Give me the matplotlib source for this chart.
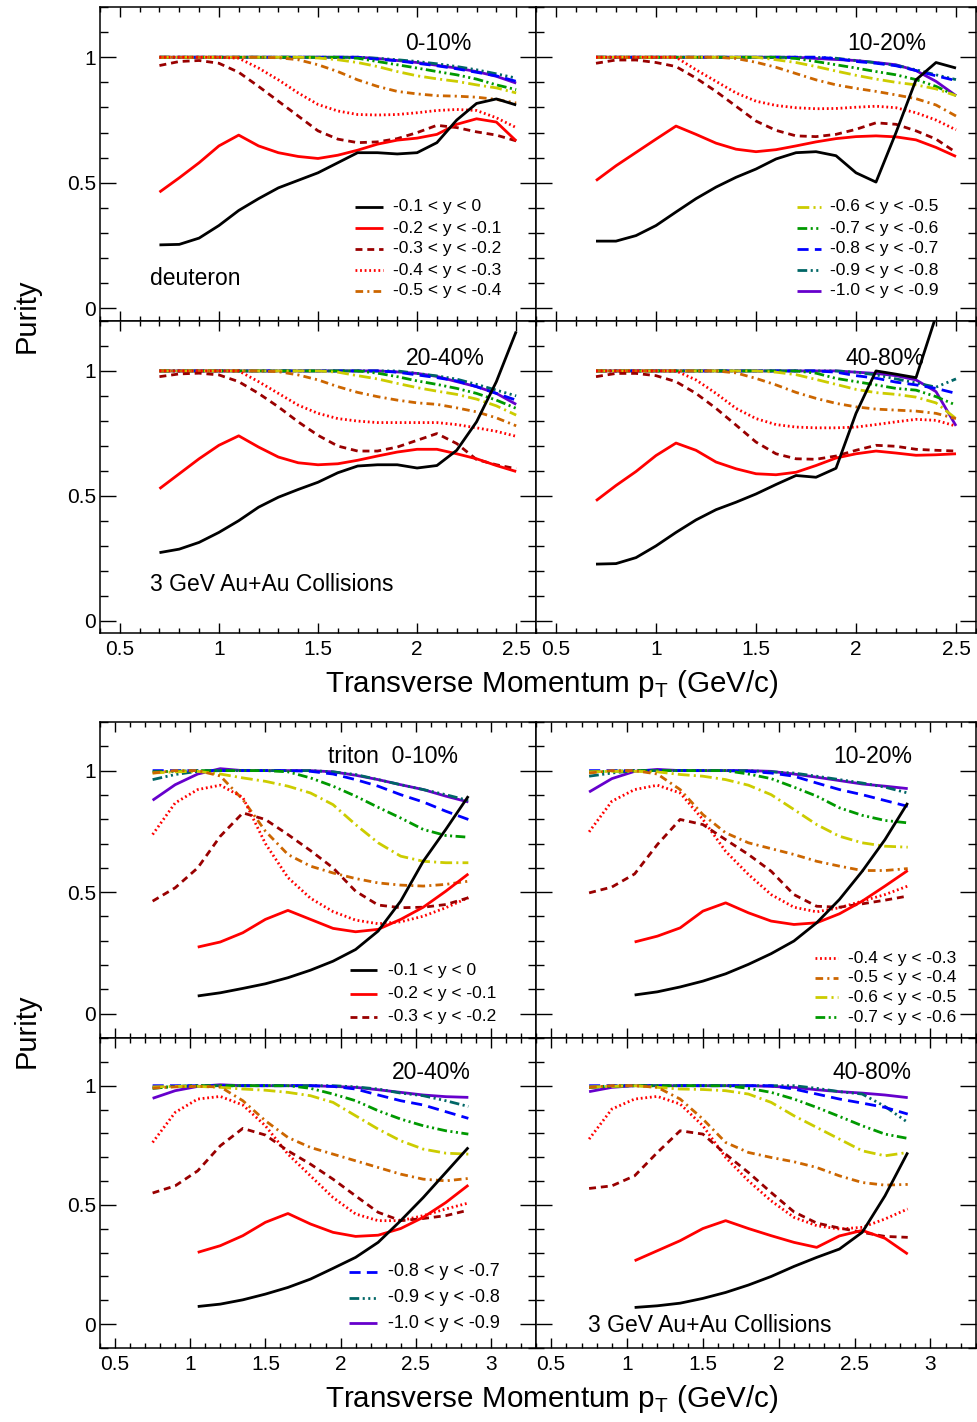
import numpy as np
import matplotlib
matplotlib.use('Agg')
import matplotlib.pyplot as plt
from matplotlib.lines import Line2D
from matplotlib.ticker import MultipleLocator, FuncFormatter

plt.rcParams['font.family'] = ['Liberation Sans', 'DejaVu Sans']
plt.rcParams['lines.scale_dashes'] = False

nan = np.nan

# ── rapidity bins ───────────────────────────────────────────────────────
RAP_LABELS = [
    '-0.1 < y < 0', '-0.2 < y < -0.1', '-0.3 < y < -0.2', '-0.4 < y < -0.3',
    '-0.5 < y < -0.4', '-0.6 < y < -0.5', '-0.7 < y < -0.6', '-0.8 < y < -0.7',
    '-0.9 < y < -0.8', '-1.0 < y < -0.9',
]
CENTRALITY = ['0-10%', '10-20%', '20-40%', '40-80%']

# ── deuteron purity vs pT ──────────────────────────────────────────────
PT_D = [0.7, 0.8, 0.9, 1.0, 1.1, 1.2, 1.3, 1.4, 1.5, 1.6,
        1.7, 1.8, 1.9, 2.0, 2.1, 2.2, 2.3, 2.4, 2.5]

D_0_10 = [
    [0.253, 0.255, 0.28, 0.33, 0.39, 0.437, 0.48, 0.51, 0.54, 0.58, 0.62, 0.62, 0.615, 0.62, 0.66, 0.75, 0.816, 0.834, 0.81],
    [0.463, 0.52, 0.58, 0.647, 0.69, 0.647, 0.62, 0.605, 0.597, 0.61, 0.63, 0.654, 0.67, 0.678, 0.693, 0.733, 0.755, 0.742, 0.667],
    [0.967, 0.983, 0.987, 0.976, 0.94, 0.884, 0.825, 0.766, 0.707, 0.674, 0.66, 0.663, 0.676, 0.7, 0.729, 0.72, 0.703, 0.69, 0.667],
    [1.0, 1.0, 1.0, 1.0, 0.996, 0.957, 0.91, 0.858, 0.812, 0.786, 0.772, 0.77, 0.772, 0.779, 0.788, 0.792, 0.788, 0.759, 0.72],
    [1.0, 1.0, 1.0, 1.0, 1.0, 1.0, 0.998, 0.99, 0.97, 0.943, 0.91, 0.884, 0.864, 0.854, 0.847, 0.845, 0.841, 0.832, 0.818],
    [1.0, 1.0, 1.0, 1.0, 1.0, 1.0, 1.0, 1.0, 0.997, 0.99, 0.979, 0.963, 0.943, 0.926, 0.914, 0.904, 0.89, 0.878, 0.858],
    [1.0, 1.0, 1.0, 1.0, 1.0, 1.0, 1.0, 1.0, 1.0, 1.0, 0.996, 0.983, 0.97, 0.957, 0.943, 0.93, 0.913, 0.89, 0.871],
    [1.0, 1.0, 1.0, 1.0, 1.0, 1.0, 1.0, 1.0, 1.0, 1.0, 1.0, 0.992, 0.986, 0.976, 0.966, 0.954, 0.94, 0.926, 0.904],
    [1.0, 1.0, 1.0, 1.0, 1.0, 1.0, 1.0, 1.0, 1.0, 1.0, 1.0, 0.996, 0.99, 0.983, 0.974, 0.963, 0.95, 0.934, 0.917],
    [1.0, 1.0, 1.0, 1.0, 1.0, 1.0, 1.0, 1.0, 1.0, 1.0, 1.0, 0.995, 0.987, 0.979, 0.968, 0.957, 0.943, 0.924, 0.897],
]

D_10_20 = [
    [0.268, 0.268, 0.29, 0.33, 0.384, 0.437, 0.483, 0.522, 0.555, 0.595, 0.62, 0.624, 0.608, 0.54, 0.503, 0.7, 0.91, 0.979, 0.957],
    [0.509, 0.568, 0.621, 0.674, 0.726, 0.693, 0.658, 0.634, 0.624, 0.632, 0.647, 0.663, 0.676, 0.684, 0.687, 0.683, 0.671, 0.641, 0.605],
    [0.976, 0.989, 0.989, 0.979, 0.963, 0.917, 0.864, 0.805, 0.746, 0.709, 0.687, 0.684, 0.693, 0.713, 0.739, 0.733, 0.707, 0.674, 0.621],
    [1.0, 1.0, 1.0, 1.0, 1.0, 0.95, 0.904, 0.858, 0.825, 0.808, 0.799, 0.795, 0.796, 0.801, 0.805, 0.799, 0.779, 0.75, 0.711],
    [1.0, 1.0, 1.0, 1.0, 1.0, 1.0, 1.0, 0.995, 0.98, 0.96, 0.935, 0.91, 0.89, 0.876, 0.864, 0.85, 0.835, 0.81, 0.766],
    [1.0, 1.0, 1.0, 1.0, 1.0, 1.0, 1.0, 1.0, 1.0, 0.99, 0.979, 0.963, 0.945, 0.928, 0.913, 0.9, 0.89, 0.874, 0.847],
    [1.0, 1.0, 1.0, 1.0, 1.0, 1.0, 1.0, 1.0, 1.0, 1.0, 0.995, 0.983, 0.97, 0.957, 0.943, 0.93, 0.911, 0.884, 0.847],
    [1.0, 1.0, 1.0, 1.0, 1.0, 1.0, 1.0, 1.0, 1.0, 1.0, 1.0, 1.0, 0.995, 0.983, 0.976, 0.966, 0.947, 0.926, 0.907],
    [1.0, 1.0, 1.0, 1.0, 1.0, 1.0, 1.0, 1.0, 1.0, 1.0, 1.0, 1.0, 0.996, 0.987, 0.978, 0.968, 0.95, 0.93, 0.911],
    [1.0, 1.0, 1.0, 1.0, 1.0, 1.0, 1.0, 1.0, 1.0, 1.0, 1.0, 0.995, 0.991, 0.987, 0.979, 0.97, 0.947, 0.904, 0.847],
]

D_20_40 = [
    [0.272, 0.286, 0.313, 0.353, 0.4, 0.454, 0.494, 0.525, 0.554, 0.592, 0.619, 0.624, 0.624, 0.611, 0.621, 0.682, 0.796, 0.957, 1.158],
    [0.528, 0.588, 0.648, 0.702, 0.74, 0.695, 0.655, 0.632, 0.624, 0.628, 0.642, 0.659, 0.675, 0.686, 0.686, 0.668, 0.648, 0.621, 0.597],
    [0.977, 0.988, 0.991, 0.984, 0.957, 0.91, 0.856, 0.796, 0.742, 0.699, 0.679, 0.679, 0.695, 0.722, 0.749, 0.709, 0.645, 0.624, 0.608],
    [1.0, 1.0, 1.0, 1.0, 1.0, 0.957, 0.91, 0.863, 0.83, 0.809, 0.799, 0.793, 0.793, 0.793, 0.793, 0.785, 0.772, 0.758, 0.738],
    [1.0, 1.0, 1.0, 1.0, 1.0, 1.0, 0.997, 0.984, 0.964, 0.937, 0.914, 0.897, 0.883, 0.872, 0.866, 0.852, 0.836, 0.812, 0.78],
    [1.0, 1.0, 1.0, 1.0, 1.0, 1.0, 1.0, 1.0, 1.0, 0.995, 0.981, 0.968, 0.95, 0.933, 0.919, 0.906, 0.887, 0.86, 0.823],
    [1.0, 1.0, 1.0, 1.0, 1.0, 1.0, 1.0, 1.0, 1.0, 1.0, 1.0, 0.991, 0.977, 0.96, 0.946, 0.93, 0.91, 0.883, 0.85],
    [1.0, 1.0, 1.0, 1.0, 1.0, 1.0, 1.0, 1.0, 1.0, 1.0, 1.0, 1.0, 0.995, 0.984, 0.973, 0.96, 0.937, 0.91, 0.883],
    [1.0, 1.0, 1.0, 1.0, 1.0, 1.0, 1.0, 1.0, 1.0, 1.0, 1.0, 1.0, 1.0, 0.99, 0.98, 0.967, 0.946, 0.923, 0.9],
    [1.0, 1.0, 1.0, 1.0, 1.0, 1.0, 1.0, 1.0, 1.0, 1.0, 1.0, 1.0, 0.996, 0.99, 0.978, 0.957, 0.937, 0.91, 0.866],
]

D_40_80 = [
    [0.226, 0.228, 0.252, 0.299, 0.353, 0.403, 0.444, 0.474, 0.507, 0.545, 0.581, 0.574, 0.61, 0.83, 1.0, 0.987, 0.973, 1.22, 1.6],
    [0.48, 0.541, 0.597, 0.661, 0.711, 0.682, 0.635, 0.608, 0.588, 0.584, 0.594, 0.621, 0.651, 0.668, 0.679, 0.671, 0.662, 0.664, 0.668],
    [0.977, 0.99, 0.99, 0.981, 0.957, 0.91, 0.85, 0.783, 0.715, 0.668, 0.648, 0.646, 0.659, 0.682, 0.702, 0.698, 0.686, 0.682, 0.679],
    [1.0, 1.0, 1.0, 1.0, 1.0, 0.964, 0.91, 0.85, 0.809, 0.785, 0.775, 0.772, 0.772, 0.775, 0.785, 0.796, 0.806, 0.802, 0.779],
    [1.0, 1.0, 1.0, 1.0, 1.0, 1.0, 1.0, 0.992, 0.97, 0.944, 0.914, 0.89, 0.87, 0.856, 0.847, 0.843, 0.839, 0.83, 0.809],
    [1.0, 1.0, 1.0, 1.0, 1.0, 1.0, 1.0, 1.0, 1.0, 0.995, 0.985, 0.966, 0.946, 0.926, 0.913, 0.906, 0.895, 0.872, 0.809],
    [1.0, 1.0, 1.0, 1.0, 1.0, 1.0, 1.0, 1.0, 1.0, 1.0, 1.0, 0.991, 0.97, 0.957, 0.944, 0.93, 0.923, 0.897, 0.863],
    [1.0, 1.0, 1.0, 1.0, 1.0, 1.0, 1.0, 1.0, 1.0, 1.0, 1.0, 1.0, 0.995, 0.981, 0.971, 0.955, 0.944, 0.93, 0.91],
    [1.0, 1.0, 1.0, 1.0, 1.0, 1.0, 1.0, 1.0, 1.0, 1.0, 1.0, 1.0, 1.0, 0.995, 0.984, 0.968, 0.952, 0.935, 0.968],
    [1.0, 1.0, 1.0, 1.0, 1.0, 1.0, 1.0, 1.0, 1.0, 1.0, 1.0, 1.0, 1.0, 0.995, 0.99, 0.981, 0.964, 0.917, 0.78],
]

# ── triton purity vs pT ────────────────────────────────────────────────
PT_T = [0.75, 0.9, 1.05, 1.2, 1.35, 1.5, 1.65, 1.8,
        1.95, 2.1, 2.25, 2.4, 2.55, 2.7, 2.85]

T_0_10 = [
    [nan, nan, 0.073, 0.086, 0.104, 0.123, 0.148, 0.179, 0.216, 0.264, 0.34, 0.463, 0.627, 0.758, 0.895],
    [nan, nan, 0.274, 0.295, 0.333, 0.388, 0.425, 0.388, 0.351, 0.337, 0.347, 0.388, 0.438, 0.504, 0.575],
    [0.463, 0.518, 0.6, 0.73, 0.826, 0.799, 0.737, 0.671, 0.6, 0.504, 0.447, 0.436, 0.438, 0.449, 0.477],
    [0.737, 0.867, 0.922, 0.94, 0.89, 0.7, 0.56, 0.475, 0.42, 0.385, 0.37, 0.378, 0.401, 0.436, 0.477],
    [0.99, 1.0, 1.0, 0.978, 0.881, 0.751, 0.655, 0.607, 0.579, 0.556, 0.538, 0.529, 0.525, 0.532, 0.545],
    [0.99, 0.995, 0.997, 0.986, 0.97, 0.956, 0.936, 0.908, 0.86, 0.778, 0.703, 0.648, 0.627, 0.621, 0.621],
    [0.995, 0.997, 1.0, 1.0, 1.0, 1.0, 0.995, 0.97, 0.936, 0.895, 0.849, 0.805, 0.758, 0.733, 0.726],
    [1.0, 1.0, 1.0, 1.0, 1.0, 1.0, 1.0, 0.997, 0.986, 0.963, 0.936, 0.901, 0.871, 0.833, 0.799],
    [0.963, 0.984, 0.997, 1.0, 1.0, 1.0, 1.0, 1.0, 0.995, 0.984, 0.963, 0.942, 0.922, 0.901, 0.877],
    [0.878, 0.942, 0.986, 1.008, 1.0, 1.0, 1.0, 1.0, 0.995, 0.981, 0.963, 0.942, 0.922, 0.895, 0.871],
]

T_10_20 = [
    [nan, nan, 0.077, 0.09, 0.11, 0.134, 0.164, 0.203, 0.247, 0.299, 0.374, 0.47, 0.586, 0.716, 0.867],
    [nan, nan, 0.295, 0.319, 0.353, 0.422, 0.456, 0.415, 0.381, 0.367, 0.374, 0.411, 0.463, 0.525, 0.589],
    [0.497, 0.521, 0.575, 0.696, 0.799, 0.778, 0.716, 0.655, 0.586, 0.49, 0.442, 0.438, 0.452, 0.467, 0.484],
    [0.748, 0.874, 0.922, 0.94, 0.908, 0.799, 0.668, 0.573, 0.49, 0.438, 0.419, 0.436, 0.463, 0.49, 0.525],
    [0.99, 1.0, 1.0, 0.986, 0.922, 0.819, 0.744, 0.703, 0.679, 0.655, 0.627, 0.607, 0.589, 0.589, 0.597],
    [0.995, 0.997, 0.997, 0.995, 0.984, 0.977, 0.963, 0.94, 0.901, 0.84, 0.778, 0.73, 0.703, 0.689, 0.685],
    [0.995, 0.997, 1.0, 1.0, 1.0, 1.0, 1.0, 0.986, 0.967, 0.932, 0.895, 0.847, 0.816, 0.795, 0.785],
    [1.0, 1.0, 1.0, 1.0, 1.0, 1.0, 1.0, 0.997, 0.99, 0.977, 0.949, 0.922, 0.901, 0.877, 0.853],
    [0.977, 0.99, 1.0, 1.0, 1.0, 1.0, 1.0, 1.0, 0.995, 0.99, 0.977, 0.963, 0.949, 0.932, 0.908],
    [0.912, 0.967, 0.997, 1.005, 1.0, 1.0, 1.0, 1.0, 0.997, 0.986, 0.973, 0.959, 0.945, 0.936, 0.926],
]

T_20_40 = [
    [nan, nan, 0.074, 0.084, 0.102, 0.126, 0.154, 0.189, 0.234, 0.28, 0.343, 0.434, 0.531, 0.636, 0.741],
    [nan, nan, 0.301, 0.329, 0.371, 0.427, 0.464, 0.42, 0.385, 0.368, 0.373, 0.401, 0.448, 0.51, 0.583],
    [0.55, 0.58, 0.643, 0.748, 0.821, 0.793, 0.727, 0.671, 0.608, 0.538, 0.469, 0.434, 0.443, 0.455, 0.478],
    [0.762, 0.888, 0.944, 0.955, 0.919, 0.832, 0.713, 0.622, 0.531, 0.462, 0.434, 0.434, 0.455, 0.483, 0.508],
    [0.99, 0.995, 0.997, 0.995, 0.937, 0.853, 0.783, 0.741, 0.713, 0.685, 0.657, 0.629, 0.608, 0.601, 0.611],
    [0.995, 0.997, 0.997, 0.993, 0.986, 0.981, 0.972, 0.958, 0.93, 0.874, 0.818, 0.769, 0.734, 0.717, 0.713],
    [0.99, 0.997, 1.0, 1.0, 1.0, 1.0, 1.0, 0.989, 0.965, 0.937, 0.895, 0.86, 0.832, 0.811, 0.797],
    [1.0, 1.0, 1.0, 1.0, 1.0, 1.0, 1.0, 1.0, 0.997, 0.986, 0.961, 0.937, 0.919, 0.891, 0.863],
    [0.989, 0.997, 1.0, 1.0, 1.0, 1.0, 1.0, 1.0, 1.0, 0.995, 0.986, 0.969, 0.958, 0.937, 0.913],
    [0.947, 0.979, 0.997, 1.004, 1.0, 1.0, 1.0, 1.0, 0.997, 0.993, 0.983, 0.972, 0.961, 0.954, 0.951],
]

T_40_80 = [
    [nan, nan, 0.07, 0.077, 0.088, 0.108, 0.133, 0.164, 0.2, 0.242, 0.28, 0.315, 0.385, 0.538, 0.72],
    [nan, nan, 0.266, 0.308, 0.35, 0.401, 0.434, 0.401, 0.371, 0.343, 0.322, 0.37, 0.393, 0.36, 0.294],
    [0.569, 0.58, 0.622, 0.72, 0.811, 0.797, 0.713, 0.636, 0.552, 0.471, 0.424, 0.403, 0.385, 0.368, 0.364],
    [0.776, 0.902, 0.944, 0.955, 0.923, 0.832, 0.699, 0.601, 0.517, 0.448, 0.413, 0.399, 0.406, 0.441, 0.483],
    [0.993, 1.0, 1.0, 0.993, 0.944, 0.86, 0.762, 0.72, 0.699, 0.681, 0.657, 0.622, 0.594, 0.583, 0.586],
    [0.995, 0.997, 1.0, 0.993, 0.986, 0.984, 0.979, 0.965, 0.93, 0.874, 0.825, 0.776, 0.727, 0.706, 0.72],
    [0.993, 0.997, 1.0, 1.0, 1.0, 1.0, 1.0, 0.989, 0.972, 0.944, 0.909, 0.871, 0.832, 0.797, 0.779],
    [1.0, 1.0, 1.0, 1.0, 1.0, 1.0, 1.0, 1.0, 1.0, 0.986, 0.965, 0.944, 0.927, 0.909, 0.881],
    [0.993, 1.0, 1.0, 1.0, 1.0, 1.0, 1.0, 1.0, 1.0, 1.0, 0.989, 0.975, 0.965, 0.913, 0.846],
    [0.975, 0.993, 1.0, 1.0, 1.0, 1.0, 1.0, 1.0, 0.997, 0.993, 0.983, 0.975, 0.969, 0.961, 0.95],
]

# one (colour, linestyle) per rapidity bin, dash lengths in points
STYLES = [
    ('black',   '-'),
    ('#ff0000', '-'),
    ('#990000', (0, (5, 3.5))),
    ('#ff0000', (0, (1.3, 2))),
    ('#cc6600', (0, (5.5, 3, 1.5, 3))),
    ('#cccc00', (0, (8.5, 3, 1.5, 3))),
    ('#009900', (0, (7, 2.5, 1.5, 2.5, 1.5, 2.5))),
    ('#0000ff', (0, (8, 4.5))),
    ('#006666', (0, (7, 2.5, 1.5, 2.5, 1.5, 2.5, 1.5, 2.5))),
    ('#6600cc', '-'),
]
LW = 2.0

# ── canvas in pixels ───────────────────────────────────────────────────
W, H = 978, 1422
fig = plt.figure(figsize=(W / 100, H / 100), dpi=100)


def box(l, t, r, b):
    return [l / W, 1 - b / H, (r - l) / W, (b - t) / H]


def fx(x):
    return x / W


def fy(y):
    return 1 - y / H


def draw_panel(rect, pt, curves, xlim, ylim, xlabels, ylabels):
    ax = fig.add_axes(box(*rect))
    for (color, ls), yv in reversed(list(zip(STYLES, curves))):
        ax.plot(pt, yv, color=color, linestyle=ls, lw=LW,
                solid_capstyle='butt', dash_capstyle='butt',
                solid_joinstyle='round')
    ax.set_xlim(xlim)
    ax.set_ylim(ylim)
    ax.xaxis.set_major_locator(MultipleLocator(0.5))
    ax.xaxis.set_minor_locator(MultipleLocator(0.1))
    ax.yaxis.set_major_locator(MultipleLocator(0.5))
    ax.yaxis.set_minor_locator(MultipleLocator(0.1))
    fmt = FuncFormatter(lambda v, _: f'{v:g}')
    ax.xaxis.set_major_formatter(fmt)
    ax.yaxis.set_major_formatter(fmt)
    ax.tick_params(which='both', direction='in', top=True, right=True, width=1)
    ax.tick_params(axis='x', which='major', length=7, pad=5, labelsize=15,
                   labelbottom=xlabels)
    ax.tick_params(axis='x', which='minor', length=3.5)
    ax.tick_params(axis='y', which='major', length=11.5, pad=3, labelsize=15,
                   labelleft=ylabels)
    ax.tick_params(axis='y', which='minor', length=5.8)
    for s in ax.spines.values():
        s.set_linewidth(1.1)
    return ax


def legend_block(indices, x0, x1, xt, y0, dy, size=12.5):
    for k, i in enumerate(indices):
        y = y0 + k * dy
        color, ls = STYLES[i]
        fig.add_artist(Line2D([fx(x0), fx(x1)], [fy(y), fy(y)], color=color,
                              linestyle=ls, lw=LW, solid_capstyle='butt',
                              dash_capstyle='butt'))
        fig.text(fx(xt), fy(y), RAP_LABELS[i], fontsize=size, va='center')


def put(x, y, s, size=16.5, ha='left'):
    fig.text(fx(x), fy(y), s, fontsize=size, ha=ha, va='baseline')


# ── deuteron block ─────────────────────────────────────────────────────
XL_D, YL_D = (0.4, 2.6), (-0.05, 1.2)
draw_panel((100, 7, 536, 321), PT_D, D_0_10, XL_D, YL_D, False, True)
draw_panel((536, 7, 976, 321), PT_D, D_10_20, XL_D, YL_D, False, False)
draw_panel((100, 321, 536, 633), PT_D, D_20_40, XL_D, YL_D, True, True)
draw_panel((536, 321, 976, 633), PT_D, D_40_80, XL_D, YL_D, True, False)

put(472, 50, CENTRALITY[0], ha='right')
put(926, 50, CENTRALITY[1], ha='right')
put(485, 365, CENTRALITY[2], ha='right')
put(925, 365, CENTRALITY[3], ha='right')
put(150, 285, 'deuteron')
put(150, 591, '3 GeV Au+Au Collisions')

legend_block([0, 1, 2, 3, 4], 355, 383, 393, 207, 21)
legend_block([5, 6, 7, 8, 9], 797, 821, 830, 207, 21)

put(325, 692, r'Transverse Momentum p$_\mathregular{T}$ (GeV/c)', size=21.3)
fig.text(fx(27), fy(316), 'Purity', fontsize=21, rotation=90,
         ha='center', va='center')

# ── triton block ───────────────────────────────────────────────────────
XL_T, YL_T = (0.4, 3.3), (-0.1, 1.2)
draw_panel((100, 722, 536, 1038), PT_T, T_0_10, XL_T, YL_T, False, True)
draw_panel((536, 722, 976, 1038), PT_T, T_10_20, XL_T, YL_T, False, False)
draw_panel((100, 1038, 536, 1348), PT_T, T_20_40, XL_T, YL_T, True, True)
draw_panel((536, 1038, 976, 1348), PT_T, T_40_80, XL_T, YL_T, True, False)

put(458, 763, 'triton  ' + CENTRALITY[0], ha='right')
put(912, 763, CENTRALITY[1], ha='right')
put(471, 1079, CENTRALITY[2], ha='right')
put(912, 1079, CENTRALITY[3], ha='right')
put(588, 1332, '3 GeV Au+Au Collisions')

legend_block([0, 1, 2], 350, 377, 388, 970, 23.5)
legend_block([3, 4, 5, 6], 815, 838, 848, 958, 19.7)
legend_block([7, 8, 9], 349, 377, 388, 1272, 25.5, size=13)

put(325, 1407, r'Transverse Momentum p$_\mathregular{T}$ (GeV/c)', size=21.3)
fig.text(fx(27), fy(1031), 'Purity', fontsize=21, rotation=90,
         ha='center', va='center')

fig.savefig('out.png', dpi=100)
